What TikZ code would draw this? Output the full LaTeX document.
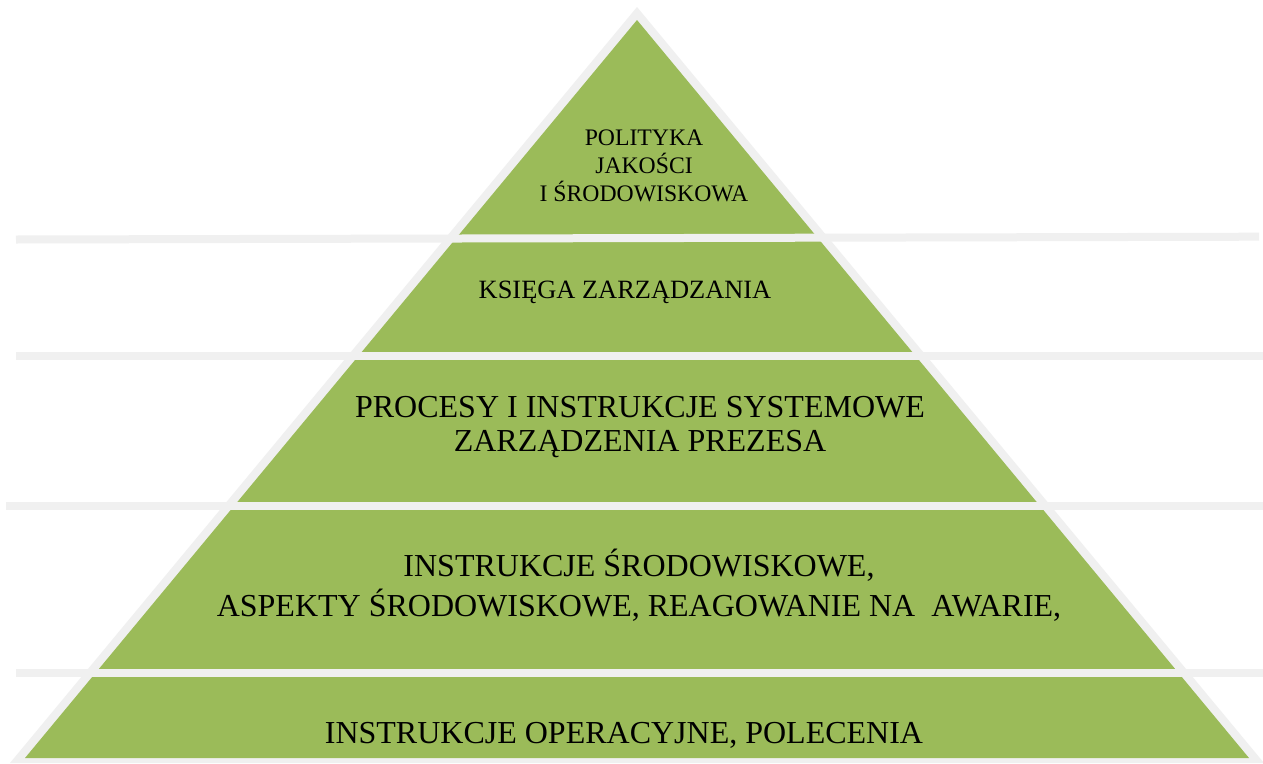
\documentclass[tikz,border=0pt]{standalone}
\usepackage{fontspec}
\setmainfont{Liberation Serif}
\definecolor{pgreen}{HTML}{9BBB59}
\definecolor{pgray}{HTML}{F0F0F0}
\begin{document}
\begin{tikzpicture}[x=1pt,y=-1pt,
  band/.style={align=center, anchor=base, inner sep=0pt, text=black},
  sep/.style={draw=pgray, line width=8pt}]
\useasboundingbox (0,0) rectangle (1263,763);
\fill[white] (0,0) rectangle (1263,763);
% pyramid: light grey rim, green body
\coordinate (oA) at (637,7);
\coordinate (oL) at (10,763);
\coordinate (oR) at (1264,763);
\coordinate (gA) at (637,20);
\coordinate (gL) at (25,758);
\coordinate (gR) at (1249,758);
\fill[pgray] (oA) -- (oL) -- (oR) -- cycle;
\fill[pgreen] (gA) -- (gL) -- (gR) -- cycle;
% separators
\coordinate (s1l) at (16,239.5);  \coordinate (s1r) at (1259,236.7);
\coordinate (s2l) at (16,356.3);  \coordinate (s2r) at (1263,356.3);
\coordinate (s3l) at (6,505.5);   \coordinate (s3r) at (1263,505.5);
\coordinate (s4l) at (16,673);    \coordinate (s4r) at (1263,673);
\draw[sep] (s1l) -- (s1r);
\draw[sep] (s2l) -- (s2r);
\draw[sep] (s3l) -- (s3r);
\draw[sep] (s4l) -- (s4r);
% labels (base anchor = baseline of the last line)
\node[band, font=\fontsize{23.7}{28}\selectfont] (t1) at (644,201)
  {POLITYKA\\JAKOŚCI\\I ŚRODOWISKOWA};
\node[band, font=\fontsize{26.4}{30}\selectfont] (t2) at (625,298)
  {KSIĘGA ZARZĄDZANIA};
\node[band, font=\fontsize{32}{34}\selectfont] (t3) at (640,451.5)
  {PROCESY I INSTRUKCJE SYSTEMOWE\\ZARZĄDZENIA PREZESA};
\node[band, font=\fontsize{32}{40}\selectfont] (t4) at (639,616)
  {INSTRUKCJE ŚRODOWISKOWE,\\ASPEKTY ŚRODOWISKOWE, REAGOWANIE NA\ \ AWARIE,};
\node[band, font=\fontsize{32}{38}\selectfont] (t5) at (624,743)
  {INSTRUKCJE OPERACYJNE, POLECENIA};
\end{tikzpicture}
\end{document}
